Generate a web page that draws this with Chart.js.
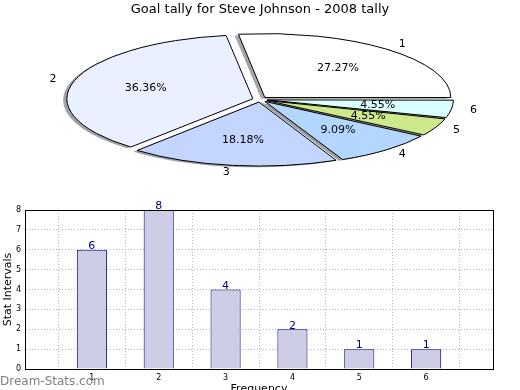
<!DOCTYPE html>
<html><head><meta charset="utf-8">
<script src="https://cdn.jsdelivr.net/npm/chart.js@4/dist/chart.umd.min.js"></script>
<style>
html,body{margin:0;padding:0;background:#fff;overflow:hidden;width:520px;height:390px}
canvas{position:absolute;left:0;top:0}
</style></head><body>
<canvas id="pie" width="520" height="190"></canvas>
<canvas id="bar" width="520" height="400"></canvas>
<script>
// ---- data ----
const chartTitle = 'Goal tally for Steve Johnson - 2008 tally';
const categories = ['1', '2', '3', '4', '5', '6'];
const goalCounts = [6, 8, 4, 2, 1, 1];
const sliceColors = ['#ffffff', '#eaf0ff', '#c4d6ff', '#b4d7ff', '#cde98c', '#d9ffff'];
const yTicks = [0, 1, 2, 3, 4, 5, 6, 7, 8];
const xAxisTitle = 'Frequency';
const yAxisTitle = 'Stat Intervals';
const watermark = 'Dream-Stats.com';

// ---- pie layout ----
const PIE_R = 186, PIE_SY = 0.344, PIE_CX = 260, PIE_CY = 99.5, EXPLODE = 0.04, SHADOW = 0.02;
const FONT = '"DejaVu Sans", sans-serif';

function shadowOf(hex) {
  const h = hex.replace('#', '');
  const r = parseInt(h.slice(0, 2), 16), g = parseInt(h.slice(2, 4), 16), b = parseInt(h.slice(4, 6), 16);
  return 'rgba(' + Math.round(r * 0.3) + ',' + Math.round(g * 0.3) + ',' + Math.round(b * 0.3) + ',0.5)';
}
const rev = a => a.slice().reverse();

const pieSquash = {
  id: 'pieSquash',
  beforeDatasetsDraw(chart) {
    const ctx = chart.ctx;
    const arcs = chart.getDatasetMeta(0).data;
    const a0 = arcs[0];
    // keep every exploded wedge at the same radius (Chart.js grows narrow offset arcs)
    arcs.forEach(el => {
      const off = (el.options.offset || 0) / 4;
      const fix = 1 - Math.sin(Math.min(Math.PI, el.circumference || 0));
      el.outerRadius = PIE_R - off * fix;
    });
    const base = ctx.getTransform();
    ctx.save();
    ctx.translate(PIE_CX, PIE_CY);
    ctx.scale(1, PIE_SY);
    ctx.translate(-a0.x, -a0.y);
    arcs.forEach(el => {
      const o = el.options;
      ctx.save();
      ctx.translate(-SHADOW * PIE_R, SHADOW * PIE_R);
      el.options = Object.assign({}, o, {backgroundColor: shadowOf(o.backgroundColor), borderWidth: 0});
      el.draw(ctx);
      el.options = o;
      ctx.restore();
    });
    ctx.stroke = function () {
      this.save();
      this.setTransform(base);
      CanvasRenderingContext2D.prototype.stroke.apply(this, arguments);
      this.restore();
    };
  },
  afterDatasetsDraw(chart) {
    const ctx = chart.ctx;
    delete ctx.stroke;
    ctx.restore();
  },
  afterDraw(chart) {
    const ctx = chart.ctx;
    const arcs = chart.getDatasetMeta(0).data;
    const vals = chart.data.datasets[0].data;
    const total = vals.reduce((s, v) => s + v, 0);
    ctx.save();
    ctx.font = '11px ' + FONT;
    ctx.fillStyle = '#000';
    ctx.textBaseline = 'middle';
    arcs.forEach((el, i) => {
      const mid = (el.startAngle + el.endAngle) / 2;
      const c = Math.cos(mid), s = Math.sin(mid);
      const ex = EXPLODE * PIE_R;
      const pos = d => [PIE_CX + c * (ex + d * PIE_R), PIE_CY + PIE_SY * s * (ex + d * PIE_R)];
      const [lx, ly] = pos(1.1);
      ctx.textAlign = c > 0 ? 'left' : 'right';
      ctx.fillText(chart.data.labels[i], lx, ly);
      const [px, py] = pos(0.6);
      ctx.textAlign = 'center';
      ctx.fillText((vals[i] / total * 100).toFixed(2) + '%', px, py);
    });
    ctx.restore();
  }
};

new Chart(document.getElementById('pie'), {
  type: 'pie',
  data: {
    labels: rev(categories),
    datasets: [{
      data: rev(goalCounts),
      backgroundColor: rev(sliceColors),
      borderColor: '#000',
      borderWidth: 1,
      borderJoinStyle: 'miter',
      offset: EXPLODE * PIE_R * 4
    }]
  },
  options: {
    responsive: false,
    animation: false,
    rotation: 90,
    radius: PIE_R,
    layout: {padding: 0},
    plugins: {
      legend: {display: false},
      tooltip: {enabled: false},
      title: {display: true, text: chartTitle, color: '#000',
        font: {family: FONT, size: 13, weight: 'normal'}, padding: {top: 2, bottom: 0}}
    }
  },
  plugins: [pieSquash]
});

// ---- bar chart ----
const xLabels = [''].concat(categories, ['']);
const barData = [null].concat(goalCounts, [null]);

const barExtras = {
  id: 'barExtras',
  afterDraw(chart) {
    const ctx = chart.ctx;
    const a = chart.chartArea;
    ctx.save();
    ctx.strokeStyle = '#000';
    ctx.lineWidth = 1;
    ctx.strokeRect(Math.round(a.left) + 0.5, Math.round(a.top) + 0.5,
      Math.round(a.right - a.left), Math.round(a.bottom - a.top));
    const meta = chart.getDatasetMeta(0);
    ctx.fillStyle = '#000080';
    ctx.font = '11px ' + FONT;
    ctx.textAlign = 'center';
    ctx.textBaseline = 'bottom';
    meta.data.forEach((el, i) => {
      const v = chart.data.datasets[0].data[i];
      if (v == null) return;
      ctx.fillText(String(v), el.x, el.y + 2);
    });
    ctx.fillStyle = '#808080';
    ctx.font = '12px ' + FONT;
    ctx.textAlign = 'left';
    ctx.textBaseline = 'alphabetic';
    ctx.fillText(watermark, 0, 385);
    ctx.restore();
  }
};

new Chart(document.getElementById('bar'), {
  type: 'bar',
  data: {
    labels: xLabels,
    datasets: [{
      data: barData,
      backgroundColor: '#cdcde6',
      borderColor: '#000080',
      borderWidth: 1,
      barPercentage: 0.45,
      categoryPercentage: 1
    }]
  },
  options: {
    responsive: false,
    animation: false,
    layout: {padding: {top: 210, right: 27, left: 0, bottom: 0}},
    plugins: {legend: {display: false}, tooltip: {enabled: false}},
    scales: {
      x: {
        type: 'category', offset: false, z: 1,
        grid: {color: '#b8b8b8', drawTicks: false, lineWidth: 1},
        border: {display: true, color: '#000', dash: [1, 2]},
        ticks: {font: {family: FONT, size: 8}, color: '#000', padding: 4, maxRotation: 0, autoSkip: false},
        title: {display: true, text: xAxisTitle, color: '#000', font: {family: FONT, size: 11}, padding: {top: 4, bottom: 4}},
        afterFit(s) { s.height = 31; }
      },
      y: {
        min: 0, max: 8, z: 1,
        grid: {color: '#b8b8b8', drawTicks: false, lineWidth: 1},
        border: {display: true, color: '#000', dash: [1, 2]},
        ticks: {font: {family: FONT, size: 8}, color: '#000', padding: 4, stepSize: 1},
        afterBuildTicks(s) { s.ticks = yTicks.map(v => ({value: v})); },
        title: {display: true, text: yAxisTitle, color: '#000', font: {family: FONT, size: 11}, padding: {top: 2, bottom: 0}},
        afterFit(s) { s.width = 25; }
      }
    }
  },
  plugins: [barExtras]
});
</script>
</body></html>
